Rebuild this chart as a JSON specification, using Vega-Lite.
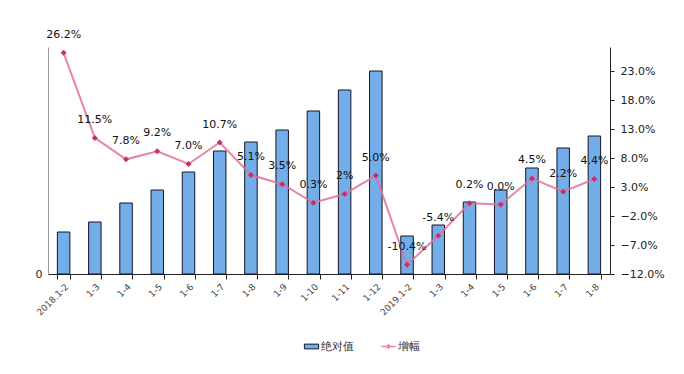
{
  "$schema": "https://vega.github.io/schema/vega-lite/v6.json",
  "width": 562,
  "height": 227,
  "autosize": {"type": "none"},
  "padding": {"left": 48, "top": 47, "right": 74, "bottom": 100},
  "background": "white",
  "config": {"view": {"stroke": null}, "font": "DejaVu Sans"},
  "data": {"values": [
    {"m": "2018.1-2", "abs": 42, "g": 26.2, "lbl": "26.2%"},
    {"m": "1-3", "abs": 52, "g": 11.5, "lbl": "11.5%"},
    {"m": "1-4", "abs": 71, "g": 7.8, "lbl": "7.8%"},
    {"m": "1-5", "abs": 84, "g": 9.2, "lbl": "9.2%"},
    {"m": "1-6", "abs": 102, "g": 7.0, "lbl": "7.0%"},
    {"m": "1-7", "abs": 123, "g": 10.7, "lbl": "10.7%"},
    {"m": "1-8", "abs": 132, "g": 5.1, "lbl": "5.1%"},
    {"m": "1-9", "abs": 144, "g": 3.5, "lbl": "3.5%"},
    {"m": "1-10", "abs": 163, "g": 0.3, "lbl": "0.3%"},
    {"m": "1-11", "abs": 184, "g": 1.8, "lbl": "2%"},
    {"m": "1-12", "abs": 203, "g": 5.0, "lbl": "5.0%"},
    {"m": "2019.1-2", "abs": 38, "g": -10.4, "lbl": "-10.4%"},
    {"m": "1-3\u200b", "abs": 49, "g": -5.4, "lbl": "-5.4%"},
    {"m": "1-4\u200b", "abs": 72, "g": 0.2, "lbl": "0.2%"},
    {"m": "1-5\u200b", "abs": 84, "g": 0.0, "lbl": "0.0%"},
    {"m": "1-6\u200b", "abs": 106, "g": 4.5, "lbl": "4.5%"},
    {"m": "1-7\u200b", "abs": 126, "g": 2.2, "lbl": "2.2%"},
    {"m": "1-8\u200b", "abs": 138, "g": 4.4, "lbl": "4.4%"}
  ]},
  "encoding": {
    "x": {
      "field": "m", "type": "nominal", "sort": null,
      "scale": {"paddingInner": 0.6, "paddingOuter": 0.3},
      "axis": {
        "title": null, "labelAngle": -45, "labelAlign": "right", "labelBaseline": "top",
        "labelFontSize": 9, "labelColor": "#444", "labelPadding": 3,
        "tickBand": "extent", "tickSize": 5, "tickColor": "#222", "domainColor": "#222"
      }
    }
  },
  "layer": [
    {
      "mark": {"type": "bar", "stroke": "#141428", "strokeWidth": 1},
      "encoding": {
        "y": {
          "field": "abs", "type": "quantitative",
          "scale": {"domain": [0, 227], "nice": false},
          "axis": {"orient": "left", "title": null, "values": [0], "ticks": false, "grid": false,
                   "labelFontSize": 11, "labelColor": "#222", "domainColor": "#999", "labelPadding": 6}
        },
        "color": {
          "datum": "绝对值",
          "scale": {"range": ["#74aee8"]},
          "legend": {"title": null, "orient": "none", "legendX": 258, "legendY": 294,
                     "symbolType": "M-1.5,-0.5H1.5V0.5H-1.5Z", "symbolSize": 90,
                     "symbolStrokeColor": "#141428", "symbolStrokeWidth": 1,
                     "labelFontSize": 11, "labelColor": "#333"}
        }
      }
    },
    {
      "encoding": {
        "y": {
          "field": "g", "type": "quantitative",
          "scale": {"domain": [-12, 27.2], "nice": false},
          "axis": {"orient": "right", "title": null, "grid": false,
                   "values": [-12, -7, -2, 3, 8, 13, 18, 23],
                   "labelExpr": "format(datum.value, '.1f') + '%'",
                   "labelFontSize": 11, "labelColor": "#222", "tickColor": "#222",
                   "domainColor": "#222", "tickSize": 4, "labelPadding": 6}
        }
      },
      "layer": [
        {
          "mark": {"type": "line", "strokeWidth": 2, "opacity": 0.85},
          "encoding": {
            "color": {
              "datum": "增幅",
              "scale": {"range": ["#e0709a"]},
              "legend": {"title": null, "orient": "none", "legendX": 335, "legendY": 294,
                         "symbolType": "M-1.5,0H1.5M0,-0.35L0.35,0L0,0.35L-0.35,0Z",
                         "symbolSize": 90, "symbolStrokeWidth": 1.5, "symbolFillColor": "#c9306a",
                         "labelFontSize": 11, "labelColor": "#333"}
            }
          }
        },
        {
          "mark": {"type": "point", "shape": "diamond", "filled": true, "size": 36, "color": "#c9306a", "opacity": 1},
          "encoding": {}
        },
        {
          "mark": {"type": "text", "dy": -18, "fontSize": 11, "color": "#111"},
          "encoding": {"text": {"field": "lbl"}}
        }
      ]
    }
  ],
  "resolve": {"scale": {"y": "independent", "color": "independent"}}
}
